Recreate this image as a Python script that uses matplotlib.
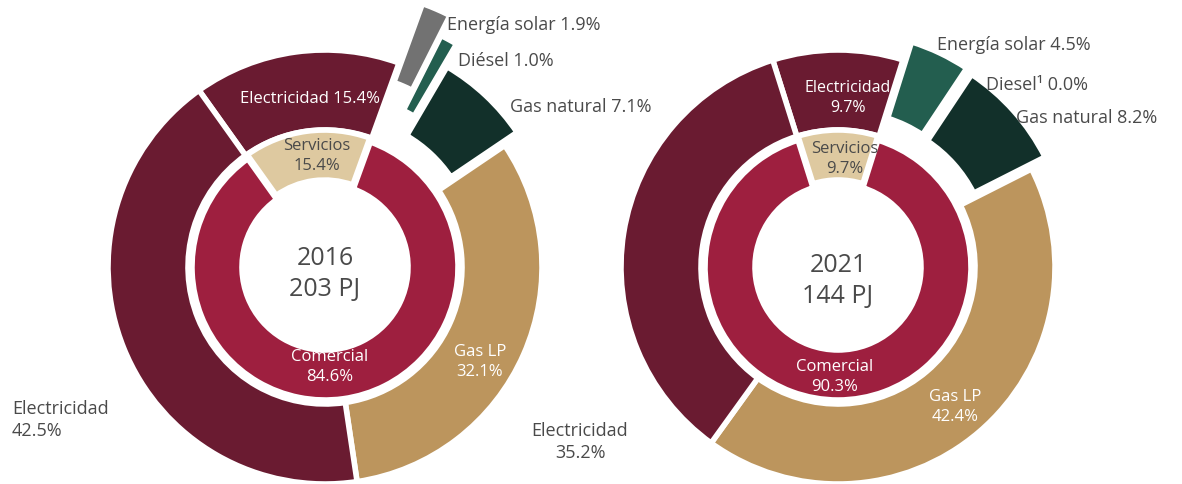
import matplotlib.pyplot as plt

W, H = 1182, 485

# data (% of total)
inner_names = ["Servicios", "Comercial"]
inner_2016 = [15.4, 84.6]
inner_2021 = [9.7, 90.3]

outer_names = ["Electricidad", "Energía solar", "Diésel", "Gas natural", "Gas LP", "Electricidad"]
outer_2016 = [15.4, 1.9, 1.0, 7.1, 32.1, 42.5]
outer_2021 = [9.7, 4.5, 0.0, 8.2, 42.4, 35.2]

years = ["2016", "2021"]
totals_pj = [203, 144]

# colours
MAROON = "#6a1b31"
CRIMSON = "#9e1f3f"
BEIGE = "#dec9a0"
TAN = "#bc955d"
DKGREEN = "#12302a"
GREEN = "#235e4f"
GRAY = "#727272"
TXT = "#4a4a4a"

inner_colors = [BEIGE, CRIMSON]
outer_colors_2016 = [MAROON, GRAY, GREEN, DKGREEN, TAN, MAROON]
outer_colors_2021 = [MAROON, GREEN, GREEN, DKGREEN, TAN, MAROON]

plt.rcParams['font.family'] = ['Open Sans', 'DejaVu Sans']

fig = plt.figure(figsize=(W / 100, H / 100), dpi=100)
ax = fig.add_axes([0, 0, 1, 1])


def py(y):
    return H - y


def donut(cx, cy, inner, outer, start, out_colors, expl_in, expl_out, thin=()):
    wedges, _ = ax.pie(outer, radius=217, center=(cx, py(cy)), startangle=start,
                       counterclock=False, colors=out_colors, explode=expl_out,
                       wedgeprops=dict(width=80, edgecolor="white", linewidth=4))
    for i in thin:
        wedges[i].set_linewidth(1.2)
    ax.pie(inner, radius=133, center=(cx, py(cy)), startangle=start,
           counterclock=False, colors=inner_colors, explode=expl_in,
           wedgeprops=dict(width=50, edgecolor="white", linewidth=4))


donut(325, 268, inner_2016, outer_2016, 125.5, outer_colors_2016,
      [4, 0], [0, 62, 40, 18, 0, 0], thin=(1, 2))
donut(838, 268, inner_2021, outer_2021, 107.5, outer_colors_2021,
      [4, 0], [0, 20, 20, 18, 0, 0])

ax.set_xlim(0, W)
ax.set_ylim(0, H)
ax.set_aspect("auto")
ax.axis("off")


def lab(x, y, s, color=TXT, size=13, ha="left", **kw):
    ax.text(x, py(y), s, color=color, fontsize=size, ha=ha, va="center",
            linespacing=1.35, **kw)


# 2016
lab(447, 25, f"{outer_names[1]} {outer_2016[1]}%")
lab(458, 61, f"{outer_names[2]} {outer_2016[2]}%")
lab(510, 107, f"{outer_names[3]} {outer_2016[3]}%")
lab(310, 99, f"{outer_names[0]} {outer_2016[0]}%", color="white", size=12, ha="center")
lab(317, 156, f"{inner_names[0]}\n{inner_2016[0]}%", size=12, ha="center")
lab(325, 274, f"{years[0]}\n{totals_pj[0]} PJ", size=18, ha="center")
lab(330, 367, f"{inner_names[1]}\n{inner_2016[1]}%", color="white", size=12, ha="center")
lab(480, 362, f"{outer_names[4]}\n{outer_2016[4]}%", color="white", size=12, ha="center")
lab(12, 420, f"{outer_names[5]}\n{outer_2016[5]}%")

# 2021
lab(937, 45, f"{outer_names[1]} {outer_2021[1]}%")
lab(986, 85, f"Diesel\u00b9 {outer_2021[2]}%")
lab(1016, 118, f"{outer_names[3]} {outer_2021[3]}%")
lab(848, 98, f"{outer_names[0]}\n{outer_2021[0]}%", color="white", size=11.5, ha="center")
lab(845, 159, f"{inner_names[0]}\n{inner_2021[0]}%", size=12, ha="center")
lab(838, 281, f"{years[1]}\n{totals_pj[1]} PJ", size=18, ha="center")
lab(835, 377, f"{inner_names[1]}\n{inner_2021[1]}%", color="white", size=12, ha="center")
lab(955, 407, f"{outer_names[4]}\n{outer_2021[4]}%", color="white", size=12, ha="center")
lab(580, 442, f"{outer_names[5]}\n{outer_2021[5]}%", ha="center")

fig.savefig("out.png", dpi=100)
